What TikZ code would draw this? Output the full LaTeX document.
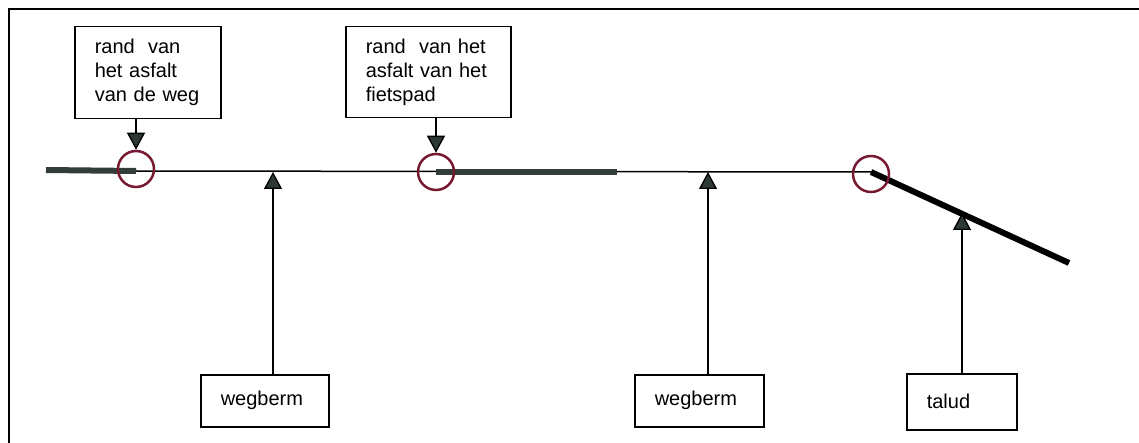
\documentclass[tikz,border=0pt]{standalone}
\usepackage{fontspec}
\setmainfont{Liberation Sans}
\usetikzlibrary{arrows.meta}
\definecolor{kopgroen}{RGB}{45,58,52}
\definecolor{kringrood}{RGB}{120,25,50}
\definecolor{asfaltgrijs}{RGB}{50,60,56}

\tikzset{
  tekstvak/.style={draw, line width=0.75pt, align=left, anchor=north west,
    inner xsep=10pt, inner ysep=0pt, font=\fontsize{10}{12}\selectfont},
  pijl/.style={line width=0.65pt, -{Triangle[width=9pt,length=8.5pt,fill=kopgroen]}},
  kring/.style={circle, draw=kringrood, line width=1.25pt, minimum size=18pt, inner sep=0pt},
  asfalt/.style={asfaltgrijs, line width=3pt},
}

\begin{document}
\begin{tikzpicture}[x=0.5pt,y=-0.5pt]
\useasboundingbox (0,0) rectangle (1139,443);
%% kader
\draw[line width=0.75pt] (1139,9) -- (9,9) -- (9,443);
%% punten op het profiel
\coordinate (p1) at (136,171);
\coordinate (p2) at (436,172);
\coordinate (p3) at (871,172);
\coordinate (eind) at (1069,263);
\coordinate (b1) at (273,172);
\coordinate (b2) at (708,172);
\coordinate (t1) at (962,213);
%% profiel
\draw[line width=0.75pt] (p1) -- (p3);
\draw[asfalt] (46,170) -- (p1);
\draw[asfalt] (p2) -- (617,172);
\draw[black, line width=3pt] (p3) -- (eind);
%% tekstvakken
\node[tekstvak, text width=53pt, minimum height=46pt] (rand1) at (74,26)
  {rand\ \ van\\het asfalt\\van de weg};
\node[tekstvak, text width=62.5pt, minimum height=45.5pt] (rand2) at (345,26)
  {rand\ \ van het\\asfalt van het\\fietspad};
\node[tekstvak, text width=44pt, minimum height=26pt] (berm1) at (200,374) {wegberm};
\node[tekstvak, text width=44.5pt, minimum height=26pt] (berm2) at (634,374) {wegberm};
\node[tekstvak, text width=35pt, minimum height=28pt] (talud) at (906,373) {talud};
%% kringen
\node[kring] (k1) at (136,169) {};
\node[kring] (k2) at (436,172) {};
\node[kring] (k3) at (871,174) {};
%% pijlen
\draw[pijl] (rand1.south -| k1) -- (k1.north);
\draw[pijl] (rand2.south -| k2) -- (k2.north);
\draw[pijl] (berm1.north -| b1) -- (b1);
\draw[pijl] (berm2.north -| b2) -- (b2);
\draw[pijl] (talud.north -| t1) -- (t1);
\end{tikzpicture}
\end{document}
